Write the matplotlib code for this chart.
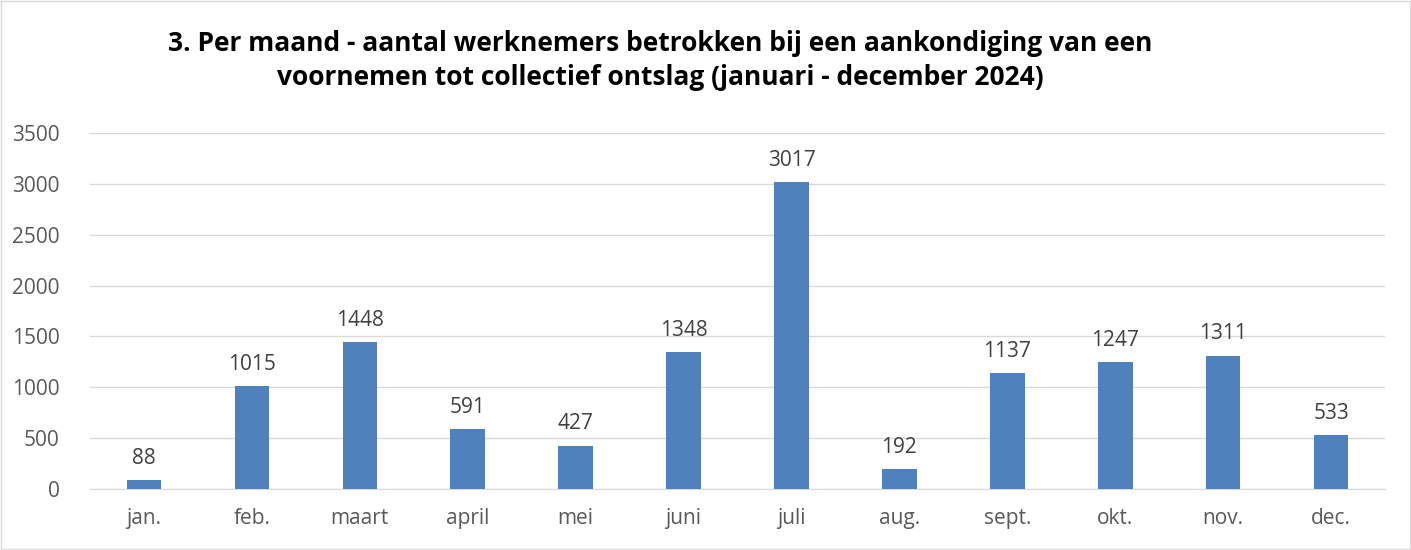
import matplotlib.pyplot as plt
import matplotlib.patches as mpatches

months = ['jan.', 'feb.', 'maart', 'april', 'mei', 'juni', 'juli', 'aug.', 'sept.', 'okt.', 'nov.', 'dec.']
werknemers = [88, 1015, 1448, 591, 427, 1348, 3017, 192, 1137, 1247, 1311, 533]
yticks = [0, 500, 1000, 1500, 2000, 2500, 3000, 3500]

plt.rcParams['font.family'] = ['Open Sans', 'DejaVu Sans']

fig = plt.figure(figsize=(14.11, 5.5), dpi=100)
ax = fig.add_axes([0.0638, 0.1109, 0.9178, 0.6473])

x = range(len(months))
ax.bar(x, werknemers, width=0.32, color='#4F81BD', zorder=3)
for i, v in zip(x, werknemers):
    ax.text(i, v + 110, str(v), ha='center', va='bottom', fontsize=15, color='#404040')

ax.set_xlim(-0.5, len(months) - 0.5)
ax.set_ylim(0, 3500)
ax.set_yticks(yticks)
ax.set_xticks(list(x))
ax.set_xticklabels(months)
ax.tick_params(axis='both', length=0, labelsize=15, labelcolor='#595959')
ax.tick_params(axis='x', pad=14)
ax.tick_params(axis='y', pad=22)
ax.grid(axis='y', color='#D9D9D9', linewidth=1, zorder=0)
for s in ['top', 'right', 'left']:
    ax.spines[s].set_visible(False)
ax.spines['bottom'].set_color('#D9D9D9')

fig.text(0.468, 0.89, '3. Per maand - aantal werknemers betrokken bij een aankondiging van een\n'
         'voornemen tot collectief ontslag (januari - december 2024)',
         ha='center', va='center', fontsize=19, fontweight='bold', linespacing=1.35)

fig.patches.append(mpatches.Rectangle((0.001, 0.002), 0.998, 0.996, transform=fig.transFigure,
                                      fill=False, edgecolor='#D9D9D9', linewidth=1))

fig.savefig('out.png', dpi=100)
